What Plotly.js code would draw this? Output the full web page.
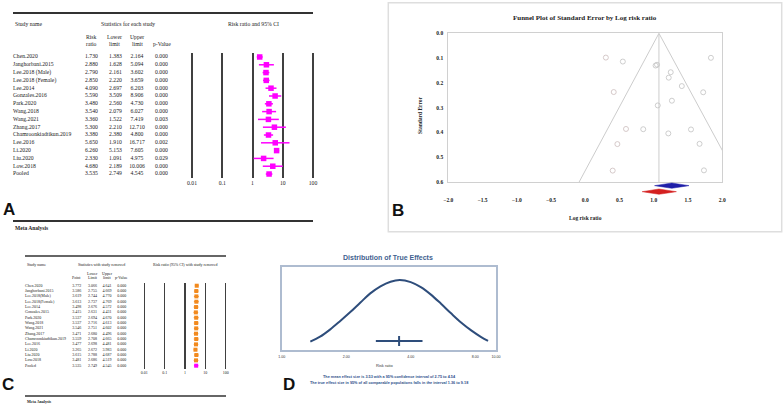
<!DOCTYPE html>
<html><head><meta charset="utf-8">
<script src="https://cdn.plot.ly/plotly-3.0.1.min.js"></script>
<style>html,body{margin:0;padding:0;background:#fff}#c{width:784px;height:405px}</style>
</head><body><div id="c"></div>
<script>
// ---------- Panel A: forest plot ----------
const studiesA = ["Chen.2020","Janghorbani.2015","Lee.2018 (Male)","Lee.2018 (Female)","Lee.2014","Gonzales.2016","Park.2020","Wang.2018","Wang.2021","Zhang.2017","Chamroonkiadtikun.2019","Lee.2016","Li.2020","Liu.2020","Low.2018","Pooled"];
const rrA  = [1.730,2.880,2.790,2.850,4.090,5.590,3.480,3.540,3.360,5.300,3.380,5.650,6.260,2.330,4.680,3.535];
const lowA = [1.383,1.628,2.161,2.220,2.697,3.509,2.560,2.079,1.522,2.210,2.380,1.910,5.153,1.091,2.189,2.749];
const upA  = [2.164,5.094,3.602,3.659,6.203,8.906,4.730,6.027,7.419,12.710,4.800,16.717,7.605,4.975,10.006,4.545];
const pA   = [0.000,0.000,0.000,0.000,0.000,0.000,0.000,0.000,0.003,0.000,0.000,0.002,0.000,0.029,0.000,0.000];
const forestTicks = [0.01,0.1,1,10,100];
const forestTickText = ["0.01","0.1","1","10","100"];

// ---------- Panel B: funnel plot ----------
const obsLogRR = [0.548,1.058,1.026,1.047,1.409,1.721,1.247,1.264,1.212,1.668,1.218,1.732,1.834,0.846,1.543];
const obsSE    = [0.114,0.291,0.130,0.127,0.213,0.238,0.157,0.272,0.404,0.446,0.179,0.553,0.099,0.387,0.388];
const impLogRR = [0.30,0.415,0.594,0.468,0.40];
const impSE    = [0.098,0.237,0.386,0.447,0.554];
const funnelX  = [-0.09,1.075,2.25];
const funnelY  = [0.6,0.0,0.6];
const centerLineX = [1.075,1.075];
const centerLineY = [0.0,0.6];
const diamondObs = [1.011,1.263,1.514];   // lower, mean, upper
const diamondAdj = [0.83,1.075,1.33];
const funnelXTicks = [-2,-1.5,-1,-0.5,0,0.5,1,1.5,2];
const funnelYTicks = [0,0.1,0.2,0.3,0.4,0.5,0.6];

// ---------- Panel C: leave-one-out ----------
const studiesC = ["Chen.2020","Janghorbani.2015","Lee.2018(Male)","Lee.2018(Female)","Lee.2014","Gonzales.2015","Park.2020","Wang.2018","Wang.2021","Zhang.2017","Chamroonkiadtikun.2019","Lee.2016","Li.2020","Liu.2020","Low.2018","Pooled"];
const ptC  = [3.772,3.586,3.619,3.613,3.498,3.415,3.537,3.537,3.546,3.471,3.559,3.477,3.265,3.615,3.481,3.535];
const lowC = [3.066,2.755,2.744,2.737,2.676,2.631,2.694,2.716,2.751,2.680,2.708,2.698,2.672,2.788,2.686,2.749];
const upC  = [4.641,4.669,4.770,4.769,4.572,4.431,4.670,4.613,4.602,4.496,4.665,4.481,3.983,4.687,4.519,4.545];
const pC   = [0,0,0,0,0,0,0,0,0,0,0,0,0,0,0,0];

// ---------- Panel D: distribution of true effects ----------
const curveX = [1.36,1.51,1.68,1.87,2.09,2.33,2.59,2.89,3.22,3.56,4.00,4.46,4.97,5.54,6.17,6.87,7.66,8.53,9.18];
const curveY = [0.10,0.16,0.245,0.345,0.455,0.57,0.68,0.765,0.82,0.84,0.815,0.755,0.665,0.555,0.44,0.33,0.235,0.155,0.11];
const meanD = 3.53;
const ciD = [2.75,4.54];
const piD = [1.36,9.18];
const dTicks = [1,2,4,8,10];
const dTickText = ["1.00","2.00","4.00","8.00","10.00"];

// ---------- helpers ----------
const W=784,H=405;
const P = px => px/W, Q = py => 1-py/H;
const SERIF = "Liberation Serif, Times New Roman, serif";
const SANS = "Liberation Sans, Arial, sans-serif";
const rowsA = studiesA.map((_,i)=>i);
const rowsC = studiesC.map((_,i)=>i);
const fill = (arr,v)=>arr.map(()=>v);
const f3 = v => v.toFixed(3);

const traces = [];
function textCol(xpx, rows, texts, ya, size, pos){
  traces.push({type:'scatter',mode:'text',x:fill(rows,xpx),y:rows,text:texts,
    textposition:pos||'middle center',xaxis:'x2',yaxis:ya,cliponaxis:false,hoverinfo:'skip',
    textfont:{family:SERIF,size:size,color:'#222'}});
}
// Panel A table
textCol(13, rowsA, studiesA, 'y', 5.7, 'middle right');
textCol(91.5, rowsA, rrA.map(f3), 'y', 5.7);
textCol(115.5, rowsA, lowA.map(f3), 'y', 5.7);
textCol(137, rowsA, upA.map(f3), 'y', 5.7);
textCol(161.5, rowsA, pA.map(f3), 'y', 5.7);
// Panel A forest
traces.push({type:'scatter',mode:'markers',x:rrA,y:rowsA,xaxis:'x',yaxis:'y',hoverinfo:'skip',
  marker:{symbol:'square',size:5.5,color:'#ff00ff'},
  error_x:{type:'data',symmetric:false,array:upA.map((u,i)=>u-rrA[i]),arrayminus:rrA.map((r,i)=>r-lowA[i]),
    color:'#ff00ff',thickness:1.5,width:0}});

// Panel C table
textCol(25, rowsC, studiesC, 'y5', 4, 'middle right');
textCol(76.7, rowsC, ptC.map(f3), 'y5', 4);
textCol(92.5, rowsC, lowC.map(f3), 'y5', 4);
textCol(107, rowsC, upC.map(f3), 'y5', 4);
textCol(121.7, rowsC, pC.map(f3), 'y5', 4);
// Panel C forest
const nC = ptC.length;
traces.push({type:'scatter',mode:'markers',x:ptC.slice(0,nC-1),y:rowsC.slice(0,nC-1),xaxis:'x5',yaxis:'y5',hoverinfo:'skip',
  marker:{symbol:'square',size:4,color:'#f28a1e'},
  error_x:{type:'data',symmetric:false,array:upC.slice(0,nC-1).map((u,i)=>u-ptC[i]),arrayminus:ptC.slice(0,nC-1).map((r,i)=>r-lowC[i]),
    color:'#f28a1e',thickness:1,width:0}});
traces.push({type:'scatter',mode:'markers',x:ptC.slice(nC-1),y:rowsC.slice(nC-1),xaxis:'x5',yaxis:'y5',hoverinfo:'skip',
  marker:{symbol:'square',size:4,color:'#ff00ff'},
  error_x:{type:'data',symmetric:false,array:[upC[nC-1]-ptC[nC-1]],arrayminus:[ptC[nC-1]-lowC[nC-1]],color:'#ff00ff',thickness:1,width:0}});

// Panel B funnel
traces.push({type:'scatter',mode:'lines',x:funnelX,y:funnelY,xaxis:'x3',yaxis:'y3',hoverinfo:'skip',line:{color:'#cccccc',width:1}});
traces.push({type:'scatter',mode:'lines',x:centerLineX,y:centerLineY,xaxis:'x3',yaxis:'y3',hoverinfo:'skip',line:{color:'#cccccc',width:1}});
traces.push({type:'scatter',mode:'markers',x:obsLogRR,y:obsSE,xaxis:'x3',yaxis:'y3',hoverinfo:'skip',
  marker:{symbol:'circle-open',size:5,color:'#c2c2c2',line:{width:0.8}}});
traces.push({type:'scatter',mode:'markers',x:impLogRR,y:impSE,xaxis:'x3',yaxis:'y3',hoverinfo:'skip',
  marker:{symbol:'circle-open',size:5,color:'#cbbcbc',line:{width:0.8}}});
function diamond(d, yc, hh, color){
  traces.push({type:'scatter',mode:'lines',x:[d[0],d[1],d[2],d[1],d[0]],y:[yc,yc+hh,yc,yc-hh,yc],
    xaxis:'x3',yaxis:'y4',fill:'toself',fillcolor:color,line:{color:color,width:0.5},hoverinfo:'skip',cliponaxis:false});
}
diamond(diamondObs, 0.74, 0.19, '#1f1fa8');
diamond(diamondAdj, 0.31, 0.19, '#d42020');

// Panel D
traces.push({type:'scatter',mode:'lines',x:curveX,y:curveY,xaxis:'x6',yaxis:'y6',hoverinfo:'skip',
  line:{color:'#2e4d7b',width:2,shape:'spline'}});
traces.push({type:'scatter',mode:'lines',x:ciD,y:[0.108,0.108],xaxis:'x6',yaxis:'y6',hoverinfo:'skip',
  line:{color:'#2e4d7b',width:2}});
traces.push({type:'scatter',mode:'markers',x:[meanD],y:[0.108],xaxis:'x6',yaxis:'y6',hoverinfo:'skip',
  marker:{symbol:'line-ns-open',size:7,color:'#2e4d7b',line:{width:2,color:'#2e4d7b'}}});

// ---------- axes ----------
const hidden = {visible:false,showgrid:false,zeroline:false};
const layout = {
  width:W,height:H,margin:{l:0,r:0,t:0,b:0},paper_bgcolor:'#fff',plot_bgcolor:'rgba(0,0,0,0)',
  showlegend:false,hovermode:false,
  xaxis:{domain:[P(188),P(317)],type:'log',range:[-2.132,2.132],anchor:'y',tickvals:forestTicks,ticktext:forestTickText,
    showgrid:true,gridcolor:'#404040',gridwidth:2,zeroline:false,showline:false,ticks:'',
    tickfont:{family:SERIF,size:5.7,color:'#222'}},
  yaxis:Object.assign({domain:[Q(178),Q(53)],range:[15.51,-0.51],anchor:'x'},hidden),
  xaxis2:Object.assign({domain:[0,1],range:[0,W],anchor:'y'},hidden),
  xaxis3:{domain:[P(448.3),P(722.3)],range:[-2,2],anchor:'y3',tickvals:funnelXTicks,tickformat:'.1f',
    showline:true,mirror:true,linecolor:'#d0d0d0',linewidth:1,showgrid:false,zeroline:false,
    ticks:'outside',ticklen:12,tickcolor:'rgba(0,0,0,0)',
    tickfont:{family:SERIF,size:5.5,color:'#222',weight:'bold'}},
  yaxis3:{domain:[Q(182),Q(33.3)],range:[0.6,0],anchor:'x3',tickvals:funnelYTicks,tickformat:'.1f',
    showline:true,mirror:true,linecolor:'#d0d0d0',linewidth:1,showgrid:false,zeroline:false,
    ticks:'outside',ticklen:3,tickcolor:'rgba(0,0,0,0)',
    tickfont:{family:SERIF,size:5.5,color:'#222',weight:'bold'}},
  yaxis4:Object.assign({domain:[Q(196),Q(182)],range:[0,1],anchor:'x3'},hidden),
  xaxis5:{domain:[P(141),P(229)],type:'log',range:[-2.162,2.162],anchor:'y5',tickvals:forestTicks,ticktext:forestTickText,
    showgrid:true,gridcolor:'#404040',gridwidth:1.5,zeroline:false,showline:false,ticks:'',
    tickfont:{family:SERIF,size:4,color:'#222'}},
  yaxis5:Object.assign({domain:[Q(369),Q(283)],range:[15.62,-0.51],anchor:'x5'},hidden),
  xaxis6:{domain:[P(281.7),P(496)],type:'log',range:[0,1],anchor:'y6',tickvals:dTicks,ticktext:dTickText,
    showline:true,mirror:true,linecolor:'#aebcd0',linewidth:1.5,showgrid:false,zeroline:false,
    ticks:'outside',ticklen:2,tickcolor:'rgba(0,0,0,0)',
    tickfont:{family:SANS,size:3.6,color:'#333'}},
  yaxis6:{domain:[Q(350),Q(266.7)],range:[0,1],anchor:'x6',showline:true,mirror:true,linecolor:'#aebcd0',linewidth:1.5,
    showgrid:false,zeroline:false,showticklabels:false,ticks:''},
  shapes:[
    {type:'line',xref:'paper',yref:'paper',x0:P(13),x1:P(313),y0:Q(13),y1:Q(13),line:{color:'#333',width:2}},
    {type:'line',xref:'paper',yref:'paper',x0:P(13),x1:P(313),y0:Q(221),y1:Q(221),line:{color:'#333',width:2}},
    {type:'line',xref:'paper',yref:'paper',x0:P(25),x1:P(226),y0:Q(256),y1:Q(256),line:{color:'#333',width:1.3}},
    {type:'line',xref:'paper',yref:'paper',x0:P(25),x1:P(226),y0:Q(396),y1:Q(396),line:{color:'#333',width:1.3}},
    {type:'rect',xref:'paper',yref:'paper',x0:P(388.3),x1:P(781.7),y0:Q(231.7),y1:Q(2.7),line:{color:'#dedede',width:1.5}}
  ],
  annotations:[]
};
function ann(text,x,y,o){
  o=o||{};
  layout.annotations.push({text:text,xref:'paper',yref:'paper',x:P(x),y:Q(y),showarrow:false,
    xanchor:o.xa||'center',yanchor:'middle',textangle:o.angle||0,
    font:{family:o.family||SERIF,size:o.size||5.7,color:o.color||'#222',weight:o.weight||'normal'}});
}
// Panel A headers
ann('Study name',13,24,{xa:'left'});
ann('Statistics for each study',128,24);
ann('Risk ratio and 95% CI',253,24);
ann('Risk',91,37); ann('ratio',91,44);
ann('Lower',114,37); ann('limit',114,44);
ann('Upper',137,37); ann('limit',137,44);
ann('p-Value',162,44);
ann('A',8.5,209,{family:SANS,size:17,weight:'bold',color:'#111'});
ann('Meta Analysis',13,227.5,{xa:'left',size:5.5,weight:'bold'});
// Panel B
ann('Funnel Plot of Standard Error by Log risk ratio',585,18,{size:7,weight:'bold'});
ann('Standard Error',420,115,{size:5.5,weight:'bold',angle:-90});
ann('Log risk ratio',585,218,{size:5.5,weight:'bold'});
ann('B',398,210,{family:SANS,size:17,weight:'bold',color:'#111'});
// Panel C headers
ann('Study name',25,264.7,{xa:'left',size:4});
ann('Statistics with study removed',101.7,264.7,{size:4});
ann('Risk ratio (95% CI) with study removed',185,264.7,{size:4});
ann('Point',76.7,277.3,{size:4});
ann('Lower',92.5,273,{size:4}); ann('Limit',92.5,277.3,{size:4});
ann('Upper',107,273,{size:4}); ann('limit',107,277.3,{size:4});
ann('p-Value',121.7,277.3,{size:4});
ann('C',7.5,384,{family:SANS,size:17,weight:'bold',color:'#111'});
ann('Meta Analysis',25,401,{xa:'left',size:4,weight:'bold'});
// Panel D
ann('Distribution of True Effects',388,257.7,{family:SANS,size:7,weight:'bold',color:'#3f5f8f'});
ann('Risk ratio',384,365.7,{family:SANS,size:4,color:'#333'});
ann('The mean effect size is '+meanD.toFixed(2)+' with a 95% confidence interval of '+ciD[0].toFixed(2)+' to '+ciD[1].toFixed(2),
    389,376.7,{family:SANS,size:3.8,weight:'bold',color:'#2c4e8a'});
ann('The true effect size in 95% of all comparable populations falls in the interval '+piD[0].toFixed(2)+' to '+piD[1].toFixed(2),
    388.5,383,{family:SANS,size:3.8,weight:'bold',color:'#2c4e8a'});
ann('D',289,384,{family:SANS,size:17,weight:'bold',color:'#111'});

Plotly.newPlot('c',traces,layout,{staticPlot:true,displayModeBar:false});
</script></body></html>
